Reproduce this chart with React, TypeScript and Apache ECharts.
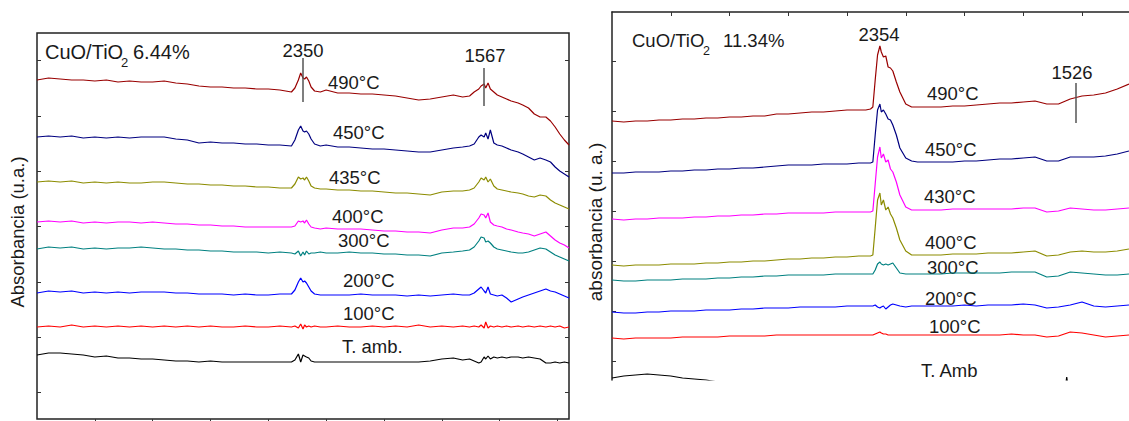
import React, { useEffect, useRef } from "react";
import * as echarts from "echarts";

// ---------- Left panel: CuO/TiO2 6.44% (wavenumber, cm-1) ----------
const wnLeft = [3500, 3450, 3400, 3350, 3300, 3250, 3200, 3150, 3100, 3050,
  3000, 2950, 2900, 2850, 2800, 2750, 2700, 2650, 2600, 2550,
  2500, 2450, 2400, 2385, 2370, 2360, 2350, 2343, 2335, 2325,
  2315, 2300, 2275, 2250, 2200, 2150, 2100, 2050, 2000, 1950,
  1900, 1850, 1800, 1750, 1700, 1660, 1630, 1610, 1590, 1580,
  1567, 1560, 1550, 1540, 1525, 1510, 1490, 1470, 1450, 1420,
  1400, 1375, 1350, 1325, 1300, 1280, 1260, 1240, 1220, 1200];

const left490 = [339, 341, 340, 339, 339, 338, 339, 337, 338, 337,
  337, 338, 336, 335, 333, 332, 332, 331, 331, 330,
  330, 329, 327, 331, 339, 346, 341, 340, 342, 338,
  332, 328, 327, 329, 326, 326, 325, 325, 324, 323,
  321, 319, 320, 322, 324, 322, 323, 327, 330, 333,
  335, 331, 336, 330, 327, 324, 322, 320, 318, 316,
  314, 311, 305, 302, 302, 298, 292, 285, 279, 274];
const left450 = [282, 283, 282, 283, 281, 282, 281, 282, 281, 282,
  282, 282, 280, 279, 276, 277, 276, 276, 275, 275,
  274, 274, 273, 279, 289, 293, 288, 287, 288, 285,
  280, 275, 273, 274, 272, 272, 271, 270, 270, 269,
  268, 267, 267, 269, 271, 272, 273, 275, 282, 284,
  282, 286, 280, 289, 276, 274, 273, 271, 269, 267,
  265, 262, 259, 261, 259, 257, 252, 248, 245, 242];
const left435 = [237, 238, 237, 238, 236, 237, 236, 237, 236, 236,
  237, 237, 236, 235, 235, 234, 234, 233, 233, 232,
  232, 231, 231, 235, 242, 240, 241, 239, 242, 238,
  233, 231, 230, 230, 229, 229, 228, 228, 227, 226,
  226, 225, 224, 227, 228, 228, 229, 231, 237, 241,
  239, 242, 237, 240, 233, 230, 229, 228, 227, 226,
  225, 223, 222, 224, 223, 219, 216, 214, 212, 210];
const left400 = [197, 198, 197, 198, 196, 197, 196, 197, 197, 196,
  197, 196, 195, 195, 194, 194, 193, 193, 192, 192,
  192, 192, 192, 193, 198, 197, 198, 196, 199, 195,
  192, 191, 190, 191, 190, 190, 190, 189, 188, 188,
  187, 187, 186, 189, 191, 191, 192, 195, 201, 205,
  204, 201, 206, 197, 194, 193, 192, 190, 189, 187,
  186, 185, 183, 185, 187, 183, 179, 176, 174, 171];
const left300 = [170, 172, 171, 172, 170, 171, 170, 171, 171, 172,
  171, 170, 170, 169, 169, 168, 168, 167, 167, 167,
  166, 167, 166, 165, 168, 163, 167, 164, 168, 165,
  166, 166, 167, 166, 166, 167, 166, 166, 165, 165,
  164, 164, 163, 166, 167, 168, 169, 172, 178, 182,
  181, 177, 178, 176, 172, 170, 169, 168, 167, 166,
  166, 167, 169, 171, 170, 167, 164, 162, 160, 158];
const left200 = [126, 128, 127, 128, 126, 127, 126, 127, 126, 127,
  127, 127, 126, 126, 125, 125, 125, 124, 125, 124,
  124, 125, 125, 129, 137, 141, 137, 138, 136, 132,
  128, 125, 124, 124, 124, 124, 125, 124, 124, 124,
  123, 124, 123, 124, 125, 124, 124, 126, 130, 132,
  128, 126, 132, 125, 124, 123, 124, 121, 117, 120,
  122, 124, 126, 128, 130, 128, 127, 125, 123, 121];
const left100 = [92, 93, 92, 94, 92, 93, 92, 93, 92, 93,
  92, 93, 92, 93, 92, 93, 92, 92, 93, 92,
  92, 93, 92, 93, 91, 95, 90, 94, 92, 93,
  92, 93, 92, 92, 93, 92, 92, 93, 92, 93,
  92, 94, 92, 93, 92, 93, 92, 93, 92, 94,
  91, 97, 91, 93, 92, 93, 92, 93, 92, 93,
  92, 93, 92, 93, 92, 93, 92, 93, 91, 92];
const leftAmb = [64, 66, 66, 65, 64, 62, 63, 61, 61, 60,
  60, 59, 58, 58, 57, 58, 57, 57, 57, 57,
  57, 57, 57, 59, 65, 57, 64, 63, 62, 61,
  58, 57, 57, 57, 57, 57, 57, 57, 57, 57,
  57, 57, 58, 60, 61, 59, 60, 58, 56, 57,
  62, 60, 63, 60, 62, 61, 62, 61, 62, 62,
  61, 62, 61, 60, 56, 56, 57, 56, 57, 56];

// ---------- Right panel: CuO/TiO2 11.34% ----------
const wnRight = [3500, 3450, 3400, 3350, 3300, 3250, 3200, 3150, 3100, 3050,
  3000, 2950, 2900, 2850, 2800, 2750, 2700, 2650, 2600, 2550,
  2500, 2450, 2420, 2400, 2390, 2380, 2370, 2360, 2354, 2345,
  2335, 2325, 2315, 2305, 2290, 2275, 2250, 2225, 2200, 2150,
  2100, 2050, 2000, 1950, 1900, 1850, 1800, 1750, 1700, 1650,
  1600, 1550, 1500, 1450, 1400, 1350, 1300];

const right490 = [259, 258, 259, 259, 260, 260, 261, 261, 262, 262,
  263, 263, 264, 264, 266, 266, 267, 268, 268, 269,
  270, 270, 270, 271, 273, 300, 325, 334, 328, 323,
  324, 313, 312, 309, 298, 288, 276, 273, 273, 273,
  273, 274, 274, 275, 276, 277, 277, 278, 279, 276,
  276, 281, 284, 285, 287, 291, 296];
const right450 = [207, 207, 208, 208, 208, 209, 209, 210, 210, 211,
  211, 212, 212, 213, 214, 215, 215, 215, 216, 216,
  216, 217, 217, 217, 218, 245, 270, 276, 268, 270,
  266, 261, 260, 255, 245, 232, 222, 219, 218, 218,
  218, 218, 219, 219, 220, 221, 221, 222, 223, 219,
  219, 223, 223, 223, 224, 226, 229];
const right430 = [161, 160, 161, 161, 162, 162, 162, 163, 163, 164,
  164, 165, 165, 166, 166, 167, 167, 167, 167, 168,
  168, 168, 168, 168, 169, 196, 223, 233, 222, 226,
  218, 220, 211, 208, 198, 185, 173, 170, 170, 170,
  170, 171, 171, 171, 171, 171, 171, 172, 172, 168,
  169, 172, 171, 170, 170, 171, 172];
const right400 = [115, 114, 115, 115, 115, 116, 116, 116, 117, 117,
  118, 118, 119, 119, 120, 121, 121, 122, 122, 123,
  123, 124, 124, 124, 125, 152, 180, 187, 175, 180,
  170, 173, 166, 162, 152, 140, 129, 125, 125, 125,
  125, 126, 126, 126, 127, 127, 127, 128, 129, 124,
  125, 128, 129, 128, 128, 129, 131];
const right300 = [100, 99, 99, 100, 100, 100, 101, 101, 101, 102,
  102, 103, 103, 104, 104, 105, 105, 105, 105, 106,
  106, 106, 106, 106, 106, 110, 116, 118, 116, 115,
  116, 115, 116, 117, 112, 107, 106, 106, 106, 106,
  106, 107, 107, 107, 107, 107, 108, 108, 108, 103,
  104, 108, 107, 106, 105, 105, 106];
const right200 = [68, 67, 67, 68, 68, 69, 69, 69, 70, 70,
  70, 71, 71, 72, 72, 72, 73, 73, 73, 73,
  74, 74, 74, 74, 74, 75, 73, 72, 73, 74,
  71, 73, 75, 76, 75, 74, 73, 74, 74, 74,
  74, 74, 75, 74, 75, 75, 75, 76, 75, 72,
  73, 75, 78, 74, 73, 74, 75];
const right100 = [42, 41, 42, 42, 42, 42, 43, 43, 43, 43,
  44, 44, 44, 44, 45, 45, 45, 45, 45, 45,
  45, 45, 45, 45, 45, 46, 47, 48, 47, 46,
  46, 45, 45, 45, 45, 45, 45, 45, 45, 45,
  45, 45, 45, 45, 45, 45, 46, 45, 45, 43,
  44, 48, 47, 45, 43, 44, 45];
const wnAmbRight = [3500, 3450, 3400, 3350, 3300, 3250, 3200, 3150, 3100, 3050,
  3000, 2900, 2800, 2600, 2400, 2200, 2000, 1800, 1600, 1570,
  1565, 1560, 1500, 1400, 1300];
const rightAmb = [2, 4, 5, 6, 5, 4, 2, 1, 0, -2,
  -4, -8, -10, -12, -12, -12, -12, -12, -12, -6,
  3, -6, -12, -12, -12];

// tick positions
const xTicksLeft = [3250, 3000, 2750, 2500, 2250, 2000, 1750, 1500, 1250];
const xTicksRight = [3250, 3000, 2750, 2500, 2250, 2000, 1750, 1500];
const yTicksLeft = [27, 82, 137, 193, 248, 303, 359];
const yTicksRight = [19, 69, 119, 169, 219, 269, 319];

// peak marker lines [wavenumber, from, to]
const markersLeft = [[2350, 361, 317], [1567, 351, 313]];
const markersRight = [[1526, 297, 257]];

const FONT = "'Liberation Sans', Arial, Helvetica, sans-serif";
const TXT = "#1a1a1a";

const zip = (xs: number[], ys: number[]) => xs.map((x, i) => [x, ys[i]]);

const markLineOf = (m: number[][]) => ({
  silent: true,
  symbol: ["none", "none"],
  label: { show: false },
  lineStyle: { color: "#555", width: 1.5, type: "solid" },
  data: m.map(([w, a, b]) => [{ coord: [w, a] }, { coord: [w, b] }]),
});

const mkSeries = (name: string, xs: number[], ys: number[], color: string, xi: number, yi: number, extra: any = {}) => ({
  name,
  type: "line",
  xAxisIndex: xi,
  yAxisIndex: yi,
  data: zip(xs, ys),
  showSymbol: false,
  symbol: "none",
  silent: true,
  clip: true,
  lineStyle: { color, width: 1.2 },
  ...extra,
});

const C490 = "#990000";
const C450 = "#000080";
const C435 = "#8c8c00";
const C400 = "#ff00ff";
const C300 = "#008080";
const C200 = "#0000ff";
const C100 = "#ff0000";
const CAMB = "#000000";

const labels: [string, number, number, string?][] = [
  ["490°C", 328, 82], ["450°C", 333, 132], ["435°C", 329, 177], ["400°C", 332, 216],
  ["300°C", 338, 240], ["200°C", 343, 280], ["100°C", 343, 313], ["T. amb.", 342, 346],
  ["2350", 303, 50, "center"], ["1567", 485, 55, "center"],
  ["490°C", 927, 93], ["450°C", 925, 149], ["430°C", 924, 196], ["400°C", 925, 242],
  ["300°C", 927, 267], ["200°C", 925, 298], ["100°C", 929, 326], ["T. Amb", 921, 370],
  ["2354", 879, 34, "center"], ["1526", 1072, 72, "center"],
];

const txt = (t: string, x: number, y: number, align = "left", size = 18.5, rot = 0) => ({
  type: "text",
  x,
  y,
  rotation: rot,
  silent: true,
  style: {
    text: t,
    fontSize: size,
    fontFamily: FONT,
    fill: TXT,
    textAlign: align,
    textVerticalAlign: "middle",
  },
});

const tickStyle = (vals: number[]) => ({
  show: true,
  inside: true,
  length: 4,
  customValues: vals,
  lineStyle: { color: "#333", width: 1 },
});

const option: any = {
  animation: false,
  backgroundColor: "#ffffff",
  grid: [
    { left: 37, top: 33, width: 532, height: 386, show: true, borderColor: "#222", borderWidth: 1.5, backgroundColor: "transparent" },
    { left: 612, top: 12, width: 517, height: 368, show: false },
  ],
  xAxis: [
    {
      gridIndex: 0, type: "value", position: "top", inverse: true, min: 1200, max: 3500,
      axisLine: { show: false }, axisTick: tickStyle(xTicksLeft), axisLabel: { show: false }, splitLine: { show: false },
    },
    {
      gridIndex: 1, type: "value", position: "top", inverse: true, min: 1300, max: 3500,
      axisLine: { show: true, onZero: false, lineStyle: { color: "#222", width: 1.5 } },
      axisTick: tickStyle(xTicksRight), axisLabel: { show: false }, splitLine: { show: false },
    },
  ],
  yAxis: [
    {
      gridIndex: 0, type: "value", position: "left", min: 0, max: 386,
      axisLine: { show: false }, axisTick: tickStyle(yTicksLeft), axisLabel: { show: false }, splitLine: { show: false },
    },
    {
      gridIndex: 0, type: "value", position: "right", min: 0, max: 386,
      axisLine: { show: false }, axisTick: tickStyle(yTicksLeft), axisLabel: { show: false }, splitLine: { show: false },
    },
    {
      gridIndex: 1, type: "value", position: "left", min: 0, max: 368,
      axisLine: { show: true, onZero: false, lineStyle: { color: "#222", width: 1.5 } },
      axisTick: tickStyle(yTicksRight), axisLabel: { show: false }, splitLine: { show: false },
    },
  ],
  series: [
    mkSeries("L490", wnLeft, left490, C490, 0, 0, { markLine: markLineOf(markersLeft) }),
    mkSeries("L450", wnLeft, left450, C450, 0, 0),
    mkSeries("L435", wnLeft, left435, C435, 0, 0),
    mkSeries("L400", wnLeft, left400, C400, 0, 0),
    mkSeries("L300", wnLeft, left300, C300, 0, 0),
    mkSeries("L200", wnLeft, left200, C200, 0, 0),
    mkSeries("L100", wnLeft, left100, C100, 0, 0),
    mkSeries("Lamb", wnLeft, leftAmb, CAMB, 0, 0),
    mkSeries("R490", wnRight, right490, C490, 1, 2, { markLine: markLineOf(markersRight) }),
    mkSeries("R450", wnRight, right450, C450, 1, 2),
    mkSeries("R430", wnRight, right430, C400, 1, 2),
    mkSeries("R400", wnRight, right400, C435, 1, 2),
    mkSeries("R300", wnRight, right300, C300, 1, 2),
    mkSeries("R200", wnRight, right200, C200, 1, 2),
    mkSeries("R100", wnRight, right100, C100, 1, 2),
    mkSeries("Ramb", wnAmbRight, rightAmb, CAMB, 1, 2),
  ],
  graphic: [
    ...labels.map(([t, x, y, a]) => txt(t, x, y, a || "left")),
    txt("CuO/TiO", 45, 52, "left", 20),
    txt("2", 121, 62, "left", 13),
    txt("6.44%", 133, 52, "left", 20),
    txt("CuO/TiO", 632, 40, "left", 18.5),
    txt("2", 703, 51, "left", 12.5),
    txt("11.34%", 723, 40, "left", 18.5),
    txt("Absorbancia (u.a.)", 17, 232, "center", 18.5, Math.PI / 2),
    txt("absorbancia (u. a.)", 595, 222, "center", 19, Math.PI / 2),
  ],
};

export default function App() {
  const ref = useRef<HTMLDivElement>(null);
  useEffect(() => {
    document.body.style.margin = "0";
    const chart = echarts.init(ref.current as HTMLDivElement, null, { renderer: "svg" });
    chart.setOption(option);
    return () => chart.dispose();
  }, []);
  return <div ref={ref} style={{ width: 1129, height: 421 }} />;
}
